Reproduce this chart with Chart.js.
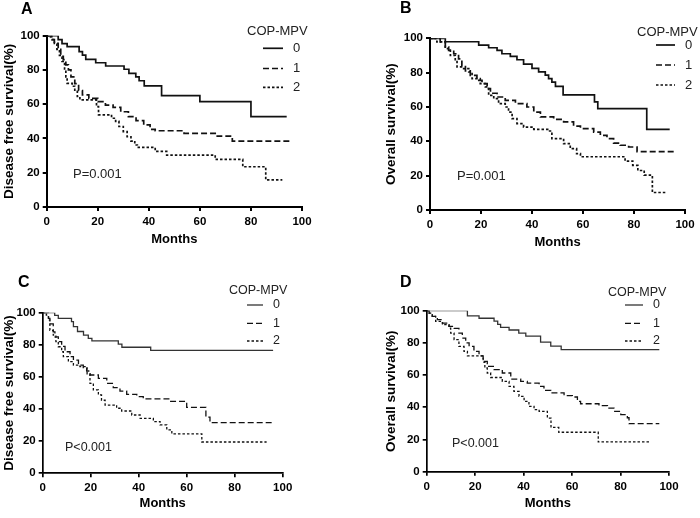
<!DOCTYPE html>
<html>
<head>
<meta charset="utf-8">
<script src="https://cdn.jsdelivr.net/npm/chart.js@4.4.0/dist/chart.umd.min.js"></script>
<style>
  html, body { margin: 0; padding: 0; background: #fff; }
  #wrap { position: relative; width: 700px; height: 518px; }
  canvas { position: absolute; }
</style>
</head>
<body>
<div id="wrap">
  <canvas id="cA" width="350" height="259" style="left:0;top:0"></canvas>
  <canvas id="cB" width="350" height="259" style="left:350px;top:0"></canvas>
  <canvas id="cC" width="350" height="259" style="left:0;top:259px"></canvas>
  <canvas id="cD" width="350" height="259" style="left:350px;top:259px"></canvas>
</div>
<script>
// group labels and legend title
const groupLabels = ["0", "1", "2"];
const legendTitle = "COP-MPV";
const monthTicks = [0, 20, 40, 60, 80, 100];
const pctTicks = [0, 20, 40, 60, 80, 100];

// A - disease free survival (months / survival %)
const aMonths0 = [0, 4.5, 6, 8, 12.7, 14, 15.3, 19.2, 23.1, 30.3, 32.2, 34.9, 36.2, 38.2, 45, 60, 80, 94];
const aSurv0   = [100, 97.7, 95.4, 93.6, 90.7, 88.7, 86.2, 84.2, 82.3, 80.4, 78, 76, 73.7, 70.7, 65, 61.5, 52.8, 52.8];
const aMonths1 = [0, 1.5, 3, 4.5, 5.5, 6.5, 7.5, 8.5, 9.5, 11, 12.5, 14, 16.5, 20, 23, 26, 29, 32, 35, 38, 40.5, 42.5, 53.8, 66.8, 72.7, 96];
const aSurv1   = [100, 97.7, 95.5, 92, 88, 86, 83, 80, 76, 72, 68, 65.4, 63.4, 61.5, 59.5, 58.2, 55.6, 52.7, 50.4, 47.9, 45.3, 44.5, 43, 41.4, 38.5, 38.5];
const aMonths2 = [0, 2, 3, 4, 5, 6, 7, 7.5, 8, 10, 11, 12, 13, 19.5, 20.3, 25.4, 27, 28.3, 30, 31.5, 33, 34.5, 35.5, 42.5, 47, 66, 76.8, 85.8, 92.3];
const aSurv2   = [100, 97.7, 95.5, 92, 88.5, 85, 80, 76, 72.2, 70.5, 67.5, 64.5, 62.5, 58.6, 53.8, 51.8, 50, 47, 44, 41, 38.5, 36.2, 34.8, 32.5, 30.3, 27.8, 23.5, 15.8, 15.8];

// B - overall survival
const bMonths0 = [0, 6, 19.1, 23, 26.3, 28.2, 31.5, 34.1, 36.7, 40, 42.6, 45.2, 46.5, 47.8, 49.2, 52.2, 64.5, 65.8, 85, 94];
const bSurv0   = [100, 98, 96, 94.5, 93, 91, 89.5, 87.5, 85, 82.5, 80.5, 78.5, 76.5, 74.5, 72, 67, 63, 59, 47, 47];
const bMonths1 = [0, 4, 6, 7.3, 9.3, 11.2, 12.5, 13.9, 15.8, 18.4, 20.4, 22.4, 23.7, 26.3, 29.5, 33.5, 38, 40.7, 43.3, 48.5, 52.4, 56.3, 59, 64.2, 66.8, 69.4, 72, 74.6, 77.9, 81.2, 96];
const bSurv1   = [100, 97.9, 95, 93, 91, 88, 84, 81, 78.4, 75.5, 73.6, 70.7, 68, 65.8, 63.9, 61.9, 60, 57, 54.2, 52.8, 51.3, 48.9, 47.4, 45.4, 43.5, 41.6, 39, 37.7, 36.7, 34, 34];
const bMonths2 = [0, 2.7, 6, 8, 9.9, 10.6, 13.2, 15.2, 16.5, 19.7, 21.7, 23, 25, 26.9, 29.5, 30.8, 32.2, 34.1, 36.7, 40.7, 46.5, 47.8, 52.4, 55, 57.5, 59, 76.5, 79.5, 81.5, 84, 87.2, 92.3];
const bSurv2   = [100, 97.9, 94, 90, 87, 83.3, 82.3, 80.4, 76.5, 73.6, 71.7, 66.8, 64.9, 61.9, 60, 57, 53.2, 50.3, 48.3, 47, 46, 41.6, 38.6, 35.7, 32.8, 31, 28.5, 26, 23, 20.3, 10.2, 10.2];

// C - disease free survival
const cMonths0 = [0, 5, 6.5, 12, 12.8, 14.5, 17, 19, 20.5, 31.5, 33, 45, 96];
const cSurv0   = [100, 98.3, 96.5, 94.5, 91.3, 88.3, 86, 84, 82.4, 80.4, 78.5, 76.5, 76.5];
const cMonths1 = [0, 2.4, 3, 4.4, 5.1, 6.5, 7.9, 9.3, 11.4, 12.8, 14.9, 16.9, 18.3, 19.7, 23.2, 26.7, 29.4, 32.2, 35, 39.2, 41.9, 53, 60, 68, 69.7, 95.4];
const cSurv1   = [100, 96.5, 93, 88, 85, 82, 79, 75.7, 72.6, 70.5, 67.4, 65.4, 63.7, 61.2, 59.1, 56, 53.3, 51.2, 49.2, 47.7, 46.3, 44.8, 41, 35, 31.5, 31.5];
const cMonths2 = [0, 1.5, 2.4, 3, 4.4, 5.5, 6.5, 7.9, 8.6, 10.7, 12.8, 15.5, 18.5, 19.7, 21.1, 23.2, 24.5, 26, 30.8, 32.9, 37.1, 40.6, 46.1, 48.9, 51.7, 53.8, 66.3, 93.3];
const cSurv2   = [100, 98.5, 95.4, 89, 86, 82, 78.8, 75.7, 72.6, 69.5, 67.4, 66.4, 62, 56, 51.9, 48.8, 45.5, 42.5, 40.5, 38.8, 36.3, 34.2, 32.2, 30.1, 27, 24.5, 19.5, 19.5];

// D - overall survival
const dMonths0 = [0, 16.8, 21.6, 27.8, 29.3, 30.5, 34, 38, 40.9, 47, 51.2, 55.5, 96];
const dSurv0   = [100, 96.8, 95.3, 93.5, 91.5, 89.7, 88, 86.1, 84.2, 80.5, 78, 75.8, 75.8];
const dMonths1 = [0, 1, 2.3, 4.4, 6.5, 9.2, 11.3, 13.3, 14.7, 16.1, 17.5, 19.5, 21.6, 23.3, 25, 27.8, 31.2, 34.7, 38.8, 41.5, 46.4, 48.4, 51.2, 56.7, 60.1, 62.2, 63.5, 71.1, 74.6, 77.3, 80.1, 82.8, 83.5, 96];
const dSurv1   = [100, 98.5, 96.5, 94.4, 92.3, 90.3, 89, 86.1, 83, 80, 77.8, 74.7, 72, 68.5, 65.4, 63.4, 61.3, 57.5, 56.1, 55, 53, 50.5, 48.9, 47.2, 46.4, 43.7, 42.2, 41, 39.5, 37.5, 35.4, 33.5, 29.8, 29.8];
const dMonths2 = [0, 1, 2.3, 3.7, 6.5, 9.2, 9.9, 11.3, 13.3, 15.4, 16.8, 23.3, 24, 25, 26.4, 31.2, 34, 36, 38.1, 40.2, 42.2, 44.3, 46.4, 49.8, 51.3, 54.5, 70.8, 92.4];
const dSurv2   = [100, 98.5, 96.5, 93.4, 91.3, 89.2, 86.1, 82, 77.8, 74.7, 72, 68, 64.4, 61.3, 58.5, 56.1, 53, 49.9, 46.8, 43.7, 40.6, 38.5, 37.5, 33.3, 27.5, 24.5, 18.5, 18.5];

const FONT = "Arial, 'Liberation Sans', sans-serif";
const lineDashes = [[], [6, 3], [2.5, 2]];

// legend, letter and p value drawn on top of each panel
const kmNotes = {
    id: "kmNotes",
    afterDraw(chart, args, o) {
        const ctx = chart.ctx;
        ctx.save();
        ctx.fillStyle = "#000";
        ctx.textBaseline = "middle";
        ctx.textAlign = "left";
        ctx.font = "bold 16px " + FONT;
        ctx.fillText(o.letter, o.letterX, o.letterY);
        ctx.font = o.fontSize + "px " + FONT;
        ctx.fillStyle = "#222";
        ctx.fillText(o.pText, o.pX, o.pY);
        ctx.fillText(legendTitle, o.legX, o.legY);
        chart.data.datasets.forEach((ds, i) => {
            const y = o.rowY[i];
            ctx.beginPath();
            ctx.setLineDash(ds.borderDash);
            ctx.lineWidth = ds.borderWidth;
            ctx.strokeStyle = ds.borderColor;
            ctx.moveTo(o.lineX0, y);
            ctx.lineTo(o.lineX1, y);
            ctx.stroke();
            ctx.setLineDash([]);
            ctx.fillText(ds.label, o.labelX, y);
        });
        ctx.restore();
    }
};

function toPoints(months, surv) {
    return months.map((m, i) => ({ x: m, y: surv[i] }));
}

function makePanel(id, area, curves, yTitle, yTitlePad, xTitlePad, look, notes) {
    const H = 259, W = 350;
    const datasets = curves.map((c, i) => ({
        label: groupLabels[i],
        data: toPoints(c[0], c[1]),
        borderColor: look.colors[i],
        borderWidth: look.lineWidth,
        borderDash: lineDashes[i],
        stepped: true,
        pointRadius: 0,
        fill: false
    }));
    const axisCommon = {
        type: "linear",
        min: 0,
        max: 100,
        border: { display: true, color: "#000", width: look.axisWidth },
        grid: { display: true, drawOnChartArea: false, drawTicks: true, tickLength: 4, color: "#000", lineWidth: look.axisWidth }
    };
    return new Chart(document.getElementById(id), {
        type: "line",
        data: { datasets: datasets },
        options: {
            responsive: false,
            animation: false,
            layout: { padding: { left: 0, top: area.top, right: W - area.right, bottom: 0 } },
            plugins: { legend: { display: false }, tooltip: { enabled: false }, kmNotes: notes },
            scales: {
                x: Object.assign({}, axisCommon, {
                    afterBuildTicks: (s) => { s.ticks = monthTicks.map(v => ({ value: v })); },
                    afterFit: (s) => { s.height = H - area.bottom; },
                    ticks: { color: "#000", padding: 4, font: { family: FONT, size: 11.5, weight: "bold" } },
                    title: { display: true, text: "Months", color: "#000", padding: { top: 0, bottom: xTitlePad },
                             font: { family: FONT, size: 13, weight: "bold" } }
                }),
                y: Object.assign({}, axisCommon, {
                    afterBuildTicks: (s) => { s.ticks = pctTicks.map(v => ({ value: v })); },
                    afterFit: (s) => { s.width = area.left; },
                    ticks: { color: "#000", padding: 3, font: { family: FONT, size: 11.5, weight: "bold" } },
                    title: { display: true, text: yTitle, color: "#000", padding: { top: yTitlePad, bottom: 0 },
                             font: { family: FONT, size: 13.5, weight: "bold" } }
                })
            }
        },
        plugins: [kmNotes]
    });
}

const lookTop = { lineWidth: 1.7, axisWidth: 2, colors: ["#111", "#111", "#111"] };
const lookBottom = { lineWidth: 1.3, axisWidth: 1.7, colors: ["#333", "#111", "#111"] };

makePanel("cA", { left: 46.7, right: 302, top: 35.7, bottom: 207 },
    [[aMonths0, aSurv0], [aMonths1, aSurv1], [aMonths2, aSurv2]],
    "Disease free survival(%)", 1.5, 12, lookTop,
    { letter: "A", letterX: 21, letterY: 10, pText: "P=0.001", pX: 73, pY: 174, fontSize: 13,
      legX: 247, legY: 31, lineX0: 263, lineX1: 283, labelX: 293, rowY: [48.3, 68.5, 87.3] });

makePanel("cB", { left: 80, right: 335, top: 38.3, bottom: 210 },
    [[bMonths0, bSurv0], [bMonths1, bSurv1], [bMonths2, bSurv2]],
    "Overall survival(%)", 33, 9, lookTop,
    { letter: "B", letterX: 50, letterY: 9, pText: "P=0.001", pX: 107, pY: 176.7, fontSize: 13,
      legX: 287, legY: 32, lineX0: 306, lineX1: 325, labelX: 335, rowY: [45, 65, 85] });

makePanel("cC", { left: 42.7, right: 282.7, top: 53.7, bottom: 214.3 },
    [[cMonths0, cSurv0], [cMonths1, cSurv1], [cMonths2, cSurv2]],
    "Disease free survival(%)", 1, 7, lookBottom,
    { letter: "C", letterX: 18, letterY: 23.5, pText: "P<0.001", pX: 65, pY: 188.7, fontSize: 12.5,
      legX: 229, legY: 32, lineX0: 247, lineX1: 263, labelX: 273, rowY: [46, 64.3, 82] });

makePanel("cD", { left: 76.7, right: 319, top: 51.7, bottom: 212.7 },
    [[dMonths0, dSurv0], [dMonths1, dSurv1], [dMonths2, dSurv2]],
    "Overall survival(%)", 33, 7, lookBottom,
    { letter: "D", letterX: 50, letterY: 23.5, pText: "P<0.001", pX: 102, pY: 184.3, fontSize: 12.5,
      legX: 258, legY: 33.3, lineX0: 275, lineX1: 293, labelX: 303, rowY: [46, 64.3, 82] });
</script>
</body>
</html>
